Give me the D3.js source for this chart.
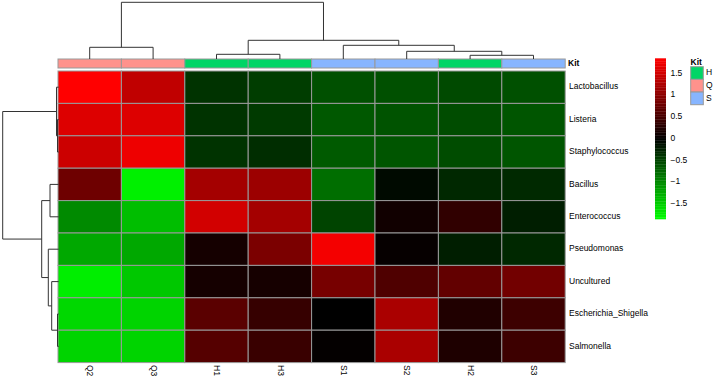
<!DOCTYPE html>
<html>
<head>
<meta charset="utf-8">
<script src="https://cdn.jsdelivr.net/npm/d3@7"></script>
<style>
  body { margin: 0; background: #fff; }
  text { font-family: "Liberation Sans", Arial, sans-serif; }
</style>
</head>
<body>
<div id="chart"></div>
<script>
// column order (as displayed) and their kit group
var columns = ["Q2", "Q3", "H1", "H3", "S1", "S2", "H2", "S3"]
var kits = ["Q", "Q", "H", "H", "S", "S", "H", "S"]
var rows = ["Lactobacillus", "Listeria", "Staphylococcus", "Bacillus", "Enterococcus",
  "Pseudomonas", "Uncultured", "Escherichia_Shigella", "Salmonella"]

// row-scaled values, one array per row, in column order
var lactobacillus = [1.85, 1.39, -0.37, -0.44, -0.58, -0.58, -0.54, -0.58]
var listeria = [1.60, 1.60, -0.37, -0.42, -0.64, -0.60, -0.55, -0.62]
var staphylococcus = [1.48, 1.73, -0.37, -0.33, -0.65, -0.62, -0.55, -0.62]
var bacillus = [0.80, -1.74, 1.19, 1.13, -0.80, -0.07, -0.29, -0.30]
var enterococcus = [-1.00, -1.38, 1.52, 1.19, -0.49, 0.12, 0.35, -0.22]
var pseudomonas = [-1.22, -1.22, 0.15, 0.89, 1.77, 0.04, -0.22, -0.29]
var uncultured = [-1.73, -1.45, 0.15, 0.16, 0.86, 0.57, 0.71, 0.83]
var escherichia = [-1.57, -1.54, 0.65, 0.39, 0.00, 1.23, 0.23, 0.44]
var salmonella = [-1.54, -1.54, 0.62, 0.41, 0.03, 1.23, 0.22, 0.44]
var values = [lactobacillus, listeria, staphylococcus, bacillus, enterococcus,
  pseudomonas, uncultured, escherichia, salmonella]

// hclust style merges: negative = leaf (1-based, display order), positive = earlier merge
var colMerge = [[-1, -2, 11.7], [-3, -4, 4.7], [-7, -8, 3.7], [-6, 3, 7.7],
  [-5, 4, 13.7], [2, 5, 18.7], [1, 6, 56.7]]
var rowMerge = [[-2, -3, 1.2], [-1, 1, 2.2], [-8, -9, 1.2], [-7, 3, 7.0],
  [-6, 4, 10.4], [-4, -5, 8.7], [6, 5, 17.0], [2, 7, 56.0]]

var legendTicks = [-1.5, -1, -0.5, 0, 0.5, 1, 1.5]
var kitNames = ["H", "Q", "S"]
var kitColors = ["#00D566", "#FF928C", "#87B5FF"]

var width = 714, height = 379
var fs = 8.5

var svg = d3.select("#chart").append("svg")
  .attr("width", width)
  .attr("height", height)

var x = d3.scaleBand().domain(columns).range([58, 565.2])
var y = d3.scaleBand().domain(rows).range([71, 362.6])
var kitColor = d3.scaleOrdinal().domain(kitNames).range(kitColors)
var vmax = 1.85
var color = d3.scaleLinear()
  .domain([-vmax, 0, vmax])
  .range(["#00FF00", "#000000", "#FF0000"])

// cells
rows.forEach(function (r, i) {
  svg.selectAll(".cell-" + i)
    .data(values[i])
    .enter()
    .append("rect")
    .attr("x", (d, j) => x(columns[j]))
    .attr("y", y(r))
    .attr("width", x.bandwidth())
    .attr("height", y.bandwidth())
    .attr("fill", d => color(d))
    .attr("stroke", "#999")
    .attr("stroke-width", 1)
})

// annotation bar
svg.selectAll(".annot")
  .data(kits)
  .enter()
  .append("rect")
  .attr("x", (d, j) => x(columns[j]))
  .attr("y", 59)
  .attr("width", x.bandwidth())
  .attr("height", 9)
  .attr("fill", d => kitColor(d))
  .attr("stroke", "#999")
  .attr("stroke-width", 1)

svg.append("text")
  .attr("x", 568)
  .attr("y", 63.5)
  .attr("dominant-baseline", "middle")
  .style("font-size", fs + "px")
  .style("font-weight", "bold")
  .text("Kit")

// row labels
svg.selectAll(".rowlab")
  .data(rows)
  .enter()
  .append("text")
  .attr("x", 569)
  .attr("y", d => y(d) + y.bandwidth() / 2)
  .attr("dominant-baseline", "middle")
  .style("font-size", fs + "px")
  .text(d => d)

// column labels, rotated
svg.selectAll(".collab")
  .data(columns)
  .enter()
  .append("text")
  .attr("transform", d => "translate(" + (x(d) + x.bandwidth() / 2) + ",365) rotate(90)")
  .attr("dominant-baseline", "middle")
  .style("font-size", fs + "px")
  .text(d => d)

// dendrograms
function dendro(merge, leafPos, hScale, vertical) {
  var pos = [], hgt = []
  var segs = []
  function get(k) {
    if (k < 0) return [leafPos(-k - 1), 0]
    return [pos[k - 1], hgt[k - 1]]
  }
  merge.forEach(function (m) {
    var a = get(m[0]), b = get(m[1]), h = m[2]
    segs.push([[a[0], a[1]], [a[0], h], [b[0], h], [b[0], b[1]]])
    pos.push((a[0] + b[0]) / 2)
    hgt.push(h)
  })
  var line = d3.line()
    .x(p => vertical ? p[0] : hScale(p[1]))
    .y(p => vertical ? hScale(p[1]) : p[0])
  svg.append("g").selectAll("path")
    .data(segs)
    .enter()
    .append("path")
    .attr("d", line)
    .attr("fill", "none")
    .attr("stroke", "#333")
    .attr("stroke-width", 1)
}

var colH = d3.scaleLinear().domain([0, 56.7]).range([59, 2.3])
dendro(colMerge, i => x(columns[i]) + x.bandwidth() / 2, colH, true)
var rowH = d3.scaleLinear().domain([0, 56]).range([58.7, 2.7])
dendro(rowMerge, i => y(rows[i]) + y.bandwidth() / 2, rowH, false)

// colour legend
var ly = d3.scaleLinear().domain([-vmax, vmax]).range([219, 58.3])
var steps = d3.range(100).map(i => -vmax + (i + 0.5) * (2 * vmax / 100))
svg.selectAll(".leg")
  .data(steps)
  .enter()
  .append("rect")
  .attr("x", 655)
  .attr("y", d => ly(d + vmax / 100))
  .attr("width", 11)
  .attr("height", ly(0) - ly(2 * vmax / 100) + 0.3)
  .attr("fill", d => color(d))

svg.selectAll(".legtick")
  .data(legendTicks)
  .enter()
  .append("text")
  .attr("x", 670.5)
  .attr("y", d => ly(d))
  .attr("dominant-baseline", "middle")
  .style("font-size", fs + "px")
  .text(d => d3.format("")(d).replace("-", "\u2212"))

// kit legend
svg.append("text")
  .attr("x", 690.5)
  .attr("y", 64.5)
  .style("font-size", fs + "px")
  .style("font-weight", "bold")
  .text("Kit")

var ky = d3.scaleBand().domain(kitNames).range([66.7, 104.7])
svg.selectAll(".kitbox")
  .data(kitNames)
  .enter()
  .append("rect")
  .attr("x", 690.7)
  .attr("y", d => ky(d))
  .attr("width", 12.6)
  .attr("height", ky.bandwidth())
  .attr("fill", d => kitColor(d))
  .attr("stroke", "#999")
  .attr("stroke-width", 1)

svg.selectAll(".kitlab")
  .data(kitNames)
  .enter()
  .append("text")
  .attr("x", 706)
  .attr("y", d => ky(d) + ky.bandwidth() / 2)
  .attr("dominant-baseline", "middle")
  .style("font-size", fs + "px")
  .text(d => d)
</script>
</body>
</html>
